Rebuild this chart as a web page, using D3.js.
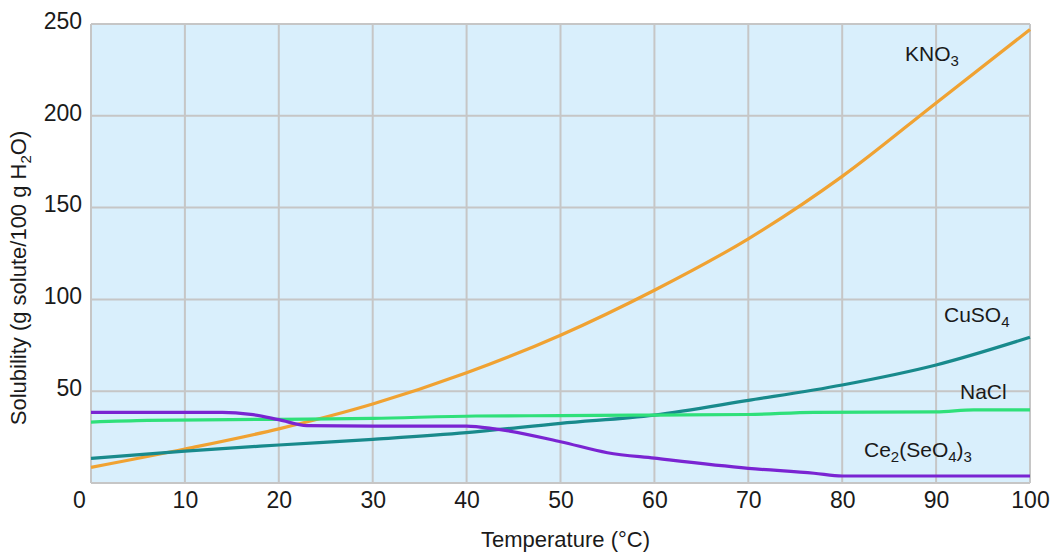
<!DOCTYPE html>
<html>
<head>
<meta charset="utf-8">
<script src="https://cdn.jsdelivr.net/npm/d3@7"></script>
<style>
  html, body { margin: 0; padding: 0; background: #ffffff; }
  svg { display: block; }
  text { font-family: "Liberation Sans", Arial, sans-serif; fill: #1a1a1a; }
</style>
</head>
<body>
<svg id="chart" width="1050" height="554"></svg>
<script>
// ---- data ----
const xTicks = [0, 10, 20, 30, 40, 50, 60, 70, 80, 90, 100];
const yTicks = [50, 100, 150, 200, 250];

const kno3Temp = [0, 10, 20, 30, 40, 50, 60, 70, 80, 90, 100];
const kno3Sol  = [8.5, 18.5, 29.5, 43, 60, 80.5, 105, 133, 167, 207, 247];

const cuso4Temp = [0, 10, 20, 30, 40, 50, 60, 70, 80, 90, 100];
const cuso4Sol  = [13.4, 17.4, 20.7, 23.8, 27.4, 32.5, 37, 45, 53.4, 64.3, 79.4];

const naclTemp = [0, 6, 20, 30, 41, 50, 60, 70, 77, 90, 94, 100];
const naclSol  = [33.2, 34.1, 34.7, 35.2, 36.5, 36.7, 37.0, 37.3, 38.5, 38.7, 39.8, 39.8];

const ceTemp = [0, 14, 17, 20, 23, 30, 40, 43, 50, 55, 60, 70, 77, 80, 100];
const ceSol  = [38.5, 38.5, 37.4, 34.5, 31.3, 31, 31, 29.5, 22.5, 16.5, 13.5, 8, 5.3, 3.8, 3.8];

const series = [
  { name: "KNO3", temp: kno3Temp, sol: kno3Sol, color: "#f0a232" },
  { name: "CuSO4", temp: cuso4Temp, sol: cuso4Sol, color: "#188a8c" },
  { name: "NaCl", temp: naclTemp, sol: naclSol, color: "#2fe07a" },
  { name: "Ce2(SeO4)3", temp: ceTemp, sol: ceSol, color: "#7a24d2" }
];

// ---- layout ----
const svg = d3.select("#chart");
const pLeft = 91, pRight = 1030, pTop = 24, pBottom = 483;

const x = d3.scaleLinear().domain([0, 100]).range([pLeft, pRight]);
const y = d3.scaleLinear().domain([0, 250]).range([pBottom, pTop]);

// plot background
svg.append("rect")
  .attr("x", pLeft).attr("y", pTop)
  .attr("width", pRight - pLeft).attr("height", pBottom - pTop)
  .attr("fill", "#d9effc");

// grid
const grid = svg.append("g").attr("stroke", "#c6c6c6").attr("stroke-width", 2);
grid.selectAll("line.v").data(xTicks).join("line")
  .attr("class", "v")
  .attr("x1", d => x(d)).attr("x2", d => x(d))
  .attr("y1", pTop).attr("y2", pBottom);
grid.selectAll("line.h").data([0].concat(yTicks)).join("line")
  .attr("class", "h")
  .attr("x1", pLeft).attr("x2", pRight)
  .attr("y1", d => y(d)).attr("y2", d => y(d));

// axes (labels only)
const yAxis = svg.append("g")
  .attr("transform", `translate(${pLeft - 9},0)`)
  .call(d3.axisLeft(y).tickValues(yTicks).tickSize(0).tickPadding(0));
yAxis.select(".domain").remove();
yAxis.selectAll("text")
  .attr("font-size", 23)
  .attr("font-family", "Liberation Sans, Arial, sans-serif")
  .attr("fill", "#1a1a1a")
  .attr("dy", "0.32em")
  .attr("y", -3);

const xAxis = svg.append("g")
  .attr("transform", `translate(0,${pBottom})`)
  .call(d3.axisBottom(x).tickValues(xTicks).tickSize(0).tickPadding(0));
xAxis.select(".domain").remove();
xAxis.selectAll("text")
  .attr("font-size", 23)
  .attr("font-family", "Liberation Sans, Arial, sans-serif")
  .attr("fill", "#1a1a1a")
  .attr("dy", null)
  .attr("y", 25)
  .attr("transform", d => d === 0 ? "translate(-12,0)" : null);

// lines
const line = d3.line().curve(d3.curveMonotoneX);
svg.append("g").selectAll("path").data(series).join("path")
  .attr("fill", "none")
  .attr("stroke", d => d.color)
  .attr("stroke-width", 3.2)
  .attr("d", d => line(d.temp.map((t, i) => [x(t), y(d.sol[i])])));

// series labels with subscripts
function label(xp, yp, parts) {
  const t = svg.append("text").attr("x", xp).attr("y", yp).attr("font-size", 21);
  let shift = 0;
  parts.forEach(p => {
    const sub = p[1];
    const dy = (sub ? 5 : 0) - shift;
    shift = sub ? 5 : 0;
    t.append("tspan").text(p[0]).attr("dy", dy).attr("font-size", sub ? 15 : 21);
  });
  return t;
}
label(905, 61, [["KNO", false], ["3", true]]);
label(944, 322, [["CuSO", false], ["4", true]]);
label(960, 399, [["NaCl", false]]);
label(864, 457, [["Ce", false], ["2", true], ["(SeO", false], ["4", true], [")", false], ["3", true]]);

// axis titles
svg.append("text")
  .attr("x", (pLeft + pRight) / 2 + 5).attr("y", 547)
  .attr("text-anchor", "middle")
  .attr("font-size", 22)
  .text("Temperature (°C)");

const yt = svg.append("text")
  .attr("transform", "translate(26,278) rotate(-90)")
  .attr("text-anchor", "middle")
  .attr("font-size", 22);
yt.append("tspan").text("Solubility (g solute/100 g H");
yt.append("tspan").text("2").attr("font-size", 15).attr("dy", 5);
yt.append("tspan").text("O)").attr("dy", -5);
</script>
</body>
</html>
